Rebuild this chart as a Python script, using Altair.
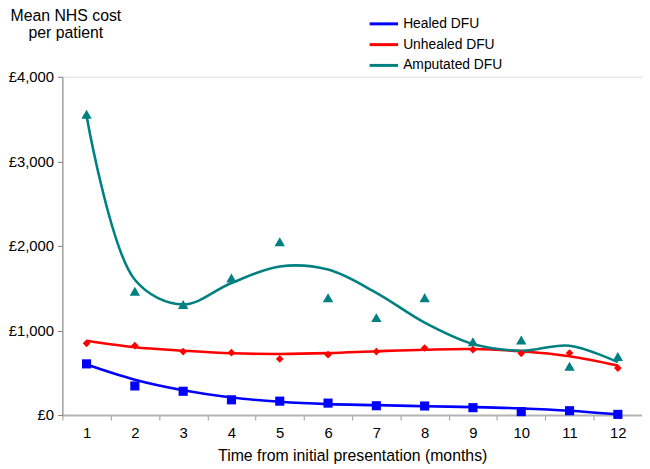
import altair as alt
import pandas as pd

# ---- data ----
months = list(range(1, 13))
series_names = ["Healed DFU", "Unhealed DFU", "Amputated DFU"]

# observed points (markers)
healed = [605, 344, 281, 180, 164, 141, 110, 107, 87, 40, 51, 8]
unhealed = [848, 820, 750, 738, 664, 714, 750, 793, 773, 730, 734, 555]
amputated = [3556, 1464, 1308, 1620, 2049, 1386, 1152, 1386, 867, 886, 578, 691]

# smooth trend curves (values read at each month)
healed_trend = [597, 418, 293, 207, 157, 129, 117, 105, 94, 78, 51, 8]
unhealed_trend = [878, 801, 761, 730, 722, 732, 754, 773, 781, 754, 695, 585]
amputated_trend = [3540, 1600, 1308, 1562, 1757, 1720, 1445, 1093, 840, 761, 820, 625]

colors = ["#0000FF", "#FF0000", "#008080"]
shapes = ["square", "diamond", "triangle-up"]
marker_sizes = [85, 60, 110]
y_ticks = [0, 1000, 2000, 3000, 4000]
x_ticks = list(range(1, 14))

pts = []
for name, vals in zip(series_names, [healed, unhealed, amputated]):
    for m, v in zip(months, vals):
        pts.append({"month": m, "cost": v, "group": name})
df_pts = pd.DataFrame(pts)

crv = []
for name, vals in zip(series_names, [healed_trend, unhealed_trend, amputated_trend]):
    for m, v in zip(months, vals):
        crv.append({"month": m, "cost": v, "series": name})
df_crv = pd.DataFrame(crv)

FONT = "Liberation Sans"
PLOT_W, PLOT_H = 586, 342
half_band = PLOT_W / 12 / 2

x_enc = alt.X(
    "month:Q",
    scale=alt.Scale(domain=[0.5, 12.5], nice=False, zero=False),
    axis=alt.Axis(
        values=x_ticks,
        labelExpr="datum.value > 12 ? '' : datum.label",
        tickOffset=-half_band,
        labelOffset=half_band,
        grid=False,
        domainColor="#b3b3b3",
        domainWidth=2,
        tickColor="#999999",
        tickSize=5,
        labelPadding=6,
        labelFontSize=15,
        labelFont=FONT,
        labelColor="#000000",
        labelFlush=False,
        labelOverlap=False,
        title="Time from initial presentation (months)",
        titleFont=FONT,
        titleFontSize=16,
        titleFontWeight="normal",
        titleColor="#000000",
        titleY=46,
        titleBaseline="alphabetic",
    ),
)

y_enc = alt.Y(
    "cost:Q",
    scale=alt.Scale(domain=[0, 4000], nice=False),
    axis=alt.Axis(
        values=y_ticks,
        labelExpr="'£' + format(datum.value, ',')",
        grid=False,
        domainColor="#808080",
        tickColor="#808080",
        tickSize=5,
        labelPadding=4,
        labelFontSize=15,
        labelFont=FONT,
        labelColor="#000000",
        title=["Mean NHS cost", "per patient"],
        titleFont=FONT,
        titleFontSize=16,
        titleFontWeight="normal",
        titleColor="#000000",
        titleAngle=0,
        titleAlign="center",
        titleX=3,
        titleY=-57,
        titleBaseline="alphabetic",
        titleLineHeight=17,
    ),
)

legend = alt.Legend(
    title=None,
    orient="none",
    legendX=311.5,
    legendY=-67,
    symbolType="M-1.2,0H1.2",
    symbolSize=576,
    symbolStrokeWidth=3,
    labelFont=FONT,
    labelFontSize=14,
    labelColor="#000000",
    labelOffset=6,
    labelLimit=300,
    rowPadding=0,
    padding=0,
)

lines = (
    alt.Chart(df_crv)
    .mark_line(strokeWidth=2.6, interpolate="catmull-rom")
    .encode(
        x=x_enc,
        y=y_enc,
        color=alt.Color("series:N", scale=alt.Scale(domain=series_names, range=colors), legend=legend),
    )
)

point_layers = []
for name, col, shp, sz in zip(series_names, colors, shapes, marker_sizes):
    point_layers.append(
        alt.Chart(df_pts)
        .transform_filter(alt.datum.group == name)
        .mark_point(filled=True, opacity=1, strokeWidth=0, shape=shp, size=sz, fill=col)
        .encode(x=x_enc, y=y_enc)
    )

chart = (
    alt.layer(lines, *point_layers)
    .properties(
        width=PLOT_W,
        height=PLOT_H,
        autosize=alt.AutoSizeParams(type="none"),
        padding={"left": 55, "top": 67, "right": 0, "bottom": 50},
    )
    .configure_view(stroke=None)
    .configure(font=FONT)
)

chart.save("out.html", embed_options={"renderer": "svg", "actions": False})
